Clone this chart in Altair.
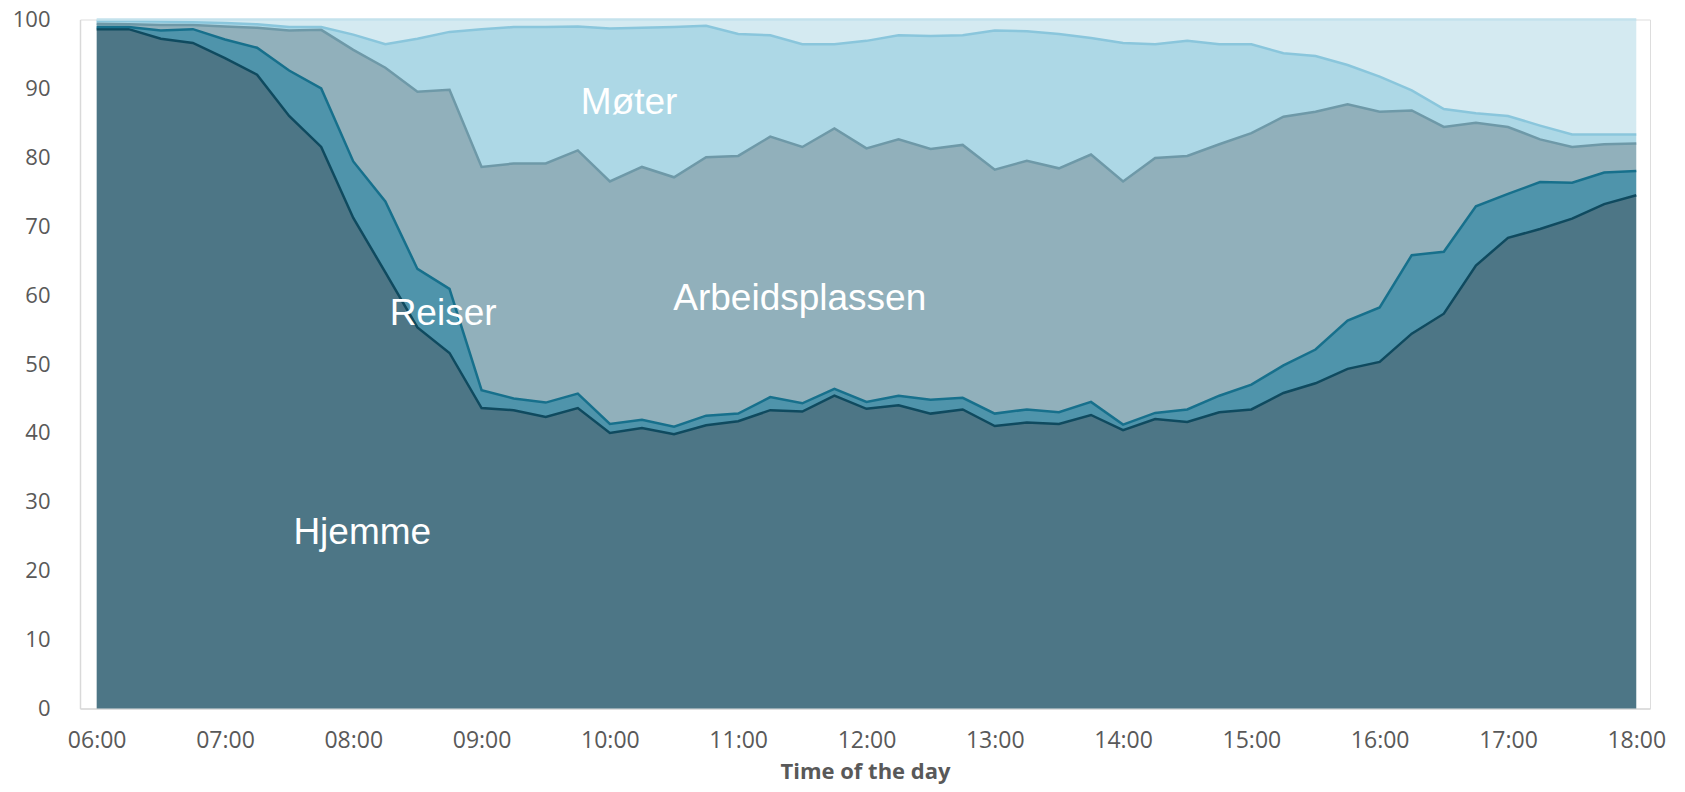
import altair as alt
import pandas as pd

# 15-minute steps from 06:00 to 18:00 (hours as decimals)
times = [6 + 0.25 * i for i in range(49)]

categories = ["Hjemme", "Reiser", "Arbeidsplassen", "Møter", "Annet"]

hjemme = [98.6, 98.6, 97.2, 96.6, 94.4, 92.0, 86.0, 81.5, 71.2, 63.3, 55.3, 51.6,
          43.6, 43.3, 42.3, 43.6, 40.0, 40.7, 39.8, 41.1, 41.7, 43.3, 43.1, 45.4,
          43.5, 44.0, 42.8, 43.4, 41.0, 41.5, 41.3, 42.6, 40.4, 42.0, 41.6, 43.0,
          43.4, 45.8, 47.2, 49.3, 50.3, 54.4, 57.3, 64.3, 68.3, 69.6, 71.1, 73.2, 74.5]

reiser = [0.3, 0.3, 1.2, 2.0, 2.7, 3.9, 6.6, 8.5, 8.2, 10.3, 8.5, 9.3,
          2.6, 1.7, 2.1, 2.1, 1.3, 1.2, 1.1, 1.4, 1.1, 1.9, 1.2, 1.0,
          1.0, 1.4, 2.0, 1.7, 1.8, 1.9, 1.7, 1.9, 0.8, 0.9, 1.8, 2.4,
          3.6, 4.0, 4.9, 7.0, 7.9, 11.4, 9.0, 8.6, 6.4, 6.8, 5.2, 4.6, 3.5]

arbeidsplassen = [0.5, 0.4, 0.8, 0.6, 1.9, 2.9, 5.8, 8.5, 16.2, 19.4, 25.7, 28.9,
                  32.4, 34.1, 34.7, 35.3, 35.2, 36.7, 36.2, 37.5, 37.4, 37.8, 37.2, 37.8,
                  36.8, 37.2, 36.4, 36.7, 35.4, 36.1, 35.4, 35.9, 35.3, 37.0, 36.8, 36.5,
                  36.5, 36.1, 34.5, 31.4, 28.4, 21.0, 18.1, 12.1, 9.7, 6.2, 5.2, 4.1, 4.0]

moter = [0.4, 0.5, 0.5, 0.4, 0.5, 0.5, 0.5, 0.4, 2.2, 3.4, 7.7, 8.4,
         20.0, 19.8, 19.8, 18.0, 22.2, 20.2, 21.8, 19.1, 17.7, 14.7, 14.9, 12.2,
         15.6, 15.1, 16.4, 15.9, 20.2, 18.8, 19.5, 16.9, 20.1, 16.5, 16.7, 14.5,
         12.9, 9.2, 8.1, 5.7, 5.1, 2.9, 2.6, 1.4, 1.6, 2.0, 1.8, 1.4, 1.3]

annet = [0.2, 0.2, 0.3, 0.4, 0.5, 0.7, 1.1, 1.1, 2.2, 3.6, 2.8, 1.8,
         1.4, 1.1, 1.1, 1.0, 1.3, 1.2, 1.1, 0.9, 2.1, 2.3, 3.6, 3.6,
         3.1, 2.3, 2.4, 2.3, 1.6, 1.7, 2.1, 2.7, 3.4, 3.6, 3.1, 3.6,
         3.6, 4.9, 5.3, 6.6, 8.3, 10.3, 13.0, 13.6, 14.0, 15.4, 16.7, 16.7, 16.7]

fill_colors = ["#4d7686", "#4f94ab", "#91b0bb", "#add8e6", "#d4eaf1"]
line_colors = ["#0f4a5f", "#17708c", "#6e99a8", "#8ac6dc", "#c4e2ec"]

label_names = ["Møter", "Arbeidsplassen", "Reiser", "Hjemme"]
label_x = [10.15, 11.48, 8.70, 8.07]
label_y = [87.9, 59.4, 57.2, 25.5]

hour_ticks = list(range(6, 19))
value_ticks = list(range(0, 101, 10))

rows = []
for k, (name, vals) in enumerate(zip(categories, [hjemme, reiser, arbeidsplassen, moter, annet])):
    for t, v in zip(times, vals):
        rows.append({"t": t, "value": v, "category": name, "order": k})
df = pd.DataFrame(rows)

labels_df = pd.DataFrame({"name": label_names, "x": label_x, "y": label_y})

font = "Open Sans"
grey = "#595959"

x_scale = alt.Scale(domain=[5.87, 18.107], nice=False, zero=False)
y_scale = alt.Scale(domain=[0, 100], nice=False)

x_axis = alt.Axis(
    values=hour_ticks,
    labelExpr="(datum.value < 10 ? '0' : '') + datum.value + ':00'",
    title="Time of the day",
    titleFont=font, titleFontSize=22, titleFontWeight="bold", titleColor=grey,
    titlePadding=9,
    labelFont=font, labelFontSize=23, labelColor=grey, labelPadding=21,
    ticks=False, tickSize=0, grid=False,
    domainColor="#d9d9d9", domainWidth=1.5,
)
y_axis = alt.Axis(
    values=value_ticks, title=None,
    labelFont=font, labelFontSize=22, labelColor=grey, labelPadding=30,
    ticks=False, tickSize=0, grid=False,
    domainColor="#d9d9d9", domainWidth=1.5,
)

base = alt.Chart(df).transform_stack(
    stack="value", groupby=["t"], as_=["y0", "y1"],
    sort=[alt.SortField("order", order="ascending")],
)

areas = base.mark_area(opacity=1, interpolate="linear").encode(
    x=alt.X("t:Q", scale=x_scale, axis=x_axis),
    y=alt.Y("y1:Q", scale=y_scale, axis=y_axis),
    y2="y0:Q",
    fill=alt.Fill("category:N", scale=alt.Scale(domain=categories, range=fill_colors), legend=None),
    order=alt.Order("order:Q"),
)

lines = base.mark_line(strokeWidth=2.5, interpolate="linear").encode(
    x=alt.X("t:Q", scale=x_scale),
    y=alt.Y("y1:Q", scale=y_scale),
    stroke=alt.Stroke("category:N", scale=alt.Scale(domain=categories, range=line_colors), legend=None),
    order=alt.Order("t:Q"),
)

texts = alt.Chart(labels_df).mark_text(
    font="Liberation Sans", fontSize=37, color="white", align="center", baseline="middle"
).encode(
    x=alt.X("x:Q", scale=x_scale),
    y=alt.Y("y:Q", scale=y_scale),
    text="name:N",
)

chart = alt.layer(areas, lines, texts).properties(
    width=1570, height=689,
    autosize=alt.AutoSizeParams(type="none"),
    padding={"left": 72, "top": 11.5, "right": 20, "bottom": 75.5},
).configure_view(stroke=None).configure(background="white")

chart.save("out.html", embed_options={"renderer": "svg", "actions": False})
